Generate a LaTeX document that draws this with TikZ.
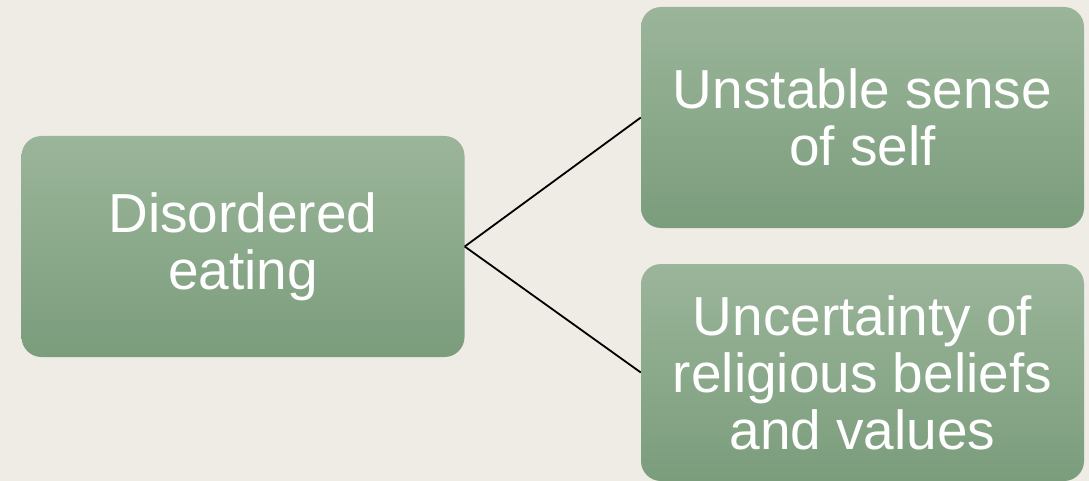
\documentclass[tikz,border=0pt]{standalone}
\usepackage{fontspec}
\setmainfont{Liberation Sans}
\definecolor{bgc}{HTML}{EFECE5}
\definecolor{gtop}{HTML}{9BB59A}
\definecolor{gbot}{HTML}{7B9D7C}
\tikzset{
  gbox/.style={rectangle, rounded corners=20pt, top color=gtop, bottom color=gbot,
    draw=none, text=white, align=center, inner sep=0pt,
    minimum width=443pt, font=\fontsize{55}{57}\selectfont},
  link/.style={draw=black, line width=1.8pt}
}
\begin{document}
\begin{tikzpicture}[x=1pt,y=-1pt]
\fill[bgc] (0,0) rectangle (1089,481);
\useasboundingbox (0,0) rectangle (1089,481);
\node[gbox, minimum height=221pt] (de) at (243,246.5) {Disordered\\eating};
\node[gbox, minimum height=221pt] (us) at (862.5,117.5) {Unstable sense\\of self};
\node[gbox, minimum height=217pt] (ur) at (862.5,372.5) {Uncertainty of\\religious beliefs\\and values};
\draw[link] (de.east) -- (us.west);
\draw[link] (de.east) -- (ur.west);
\end{tikzpicture}
\end{document}
